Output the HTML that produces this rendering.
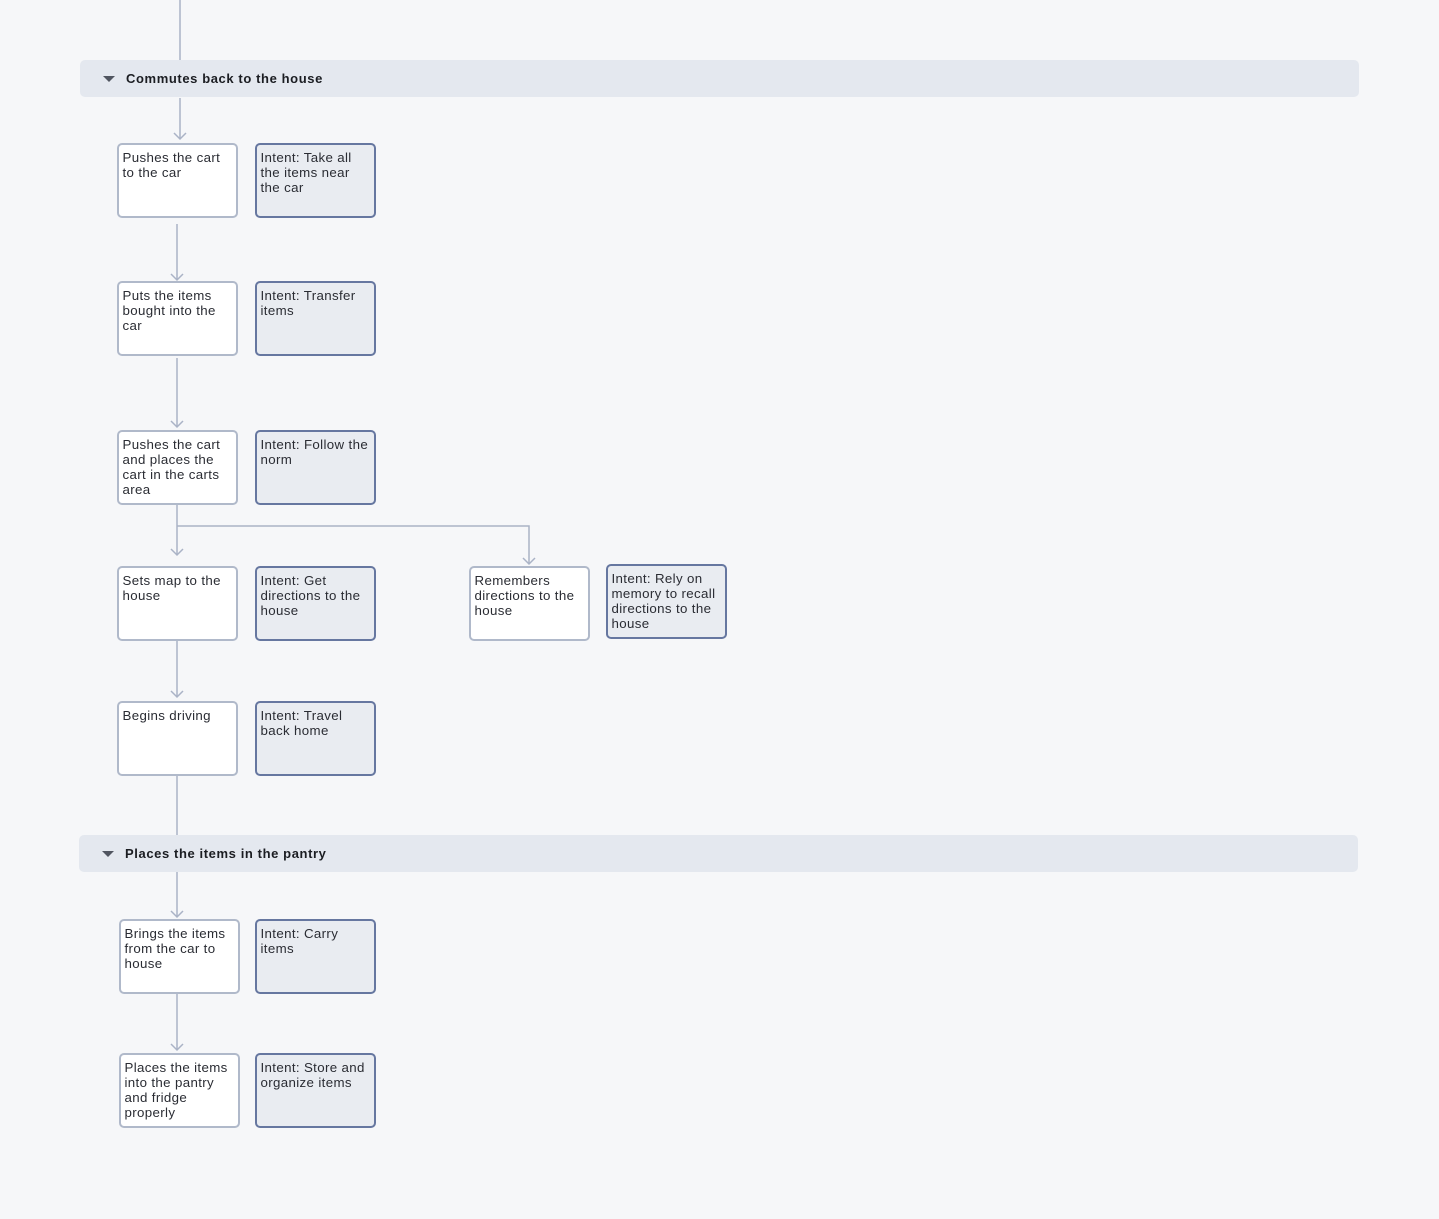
<!DOCTYPE html>
<html><head><meta charset="utf-8"><style>
html,body{margin:0;padding:0;}
body{width:1439px;height:1219px;background:#f6f7f9;position:relative;overflow:hidden;font-family:"Liberation Sans",sans-serif;}
.hdr{position:absolute;height:37px;background:#e4e8ef;border-radius:5px;}
.hdr span{position:absolute;left:46px;top:11px;font-weight:bold;font-size:13px;color:#1b1d22;letter-spacing:0.6px;}
.hdr i{position:absolute;left:23px;top:16px;width:0;height:0;border-left:6px solid transparent;border-right:6px solid transparent;border-top:6px solid #505560;}
.n{position:absolute;box-sizing:border-box;width:121px;height:75px;border:2px solid #b0b9ca;background:#fff;border-radius:5px;font-size:13.3px;line-height:15px;color:#2a2c33;padding:5px 2px 0 3.5px;letter-spacing:0.35px;}
.i{background:#e9ecf1;border:2px solid #6677a0;}
svg{position:absolute;left:0;top:0;}
</style></head><body>
<svg width="1439" height="1219">
<g stroke="#aab3c6" stroke-width="1.5" fill="none">
<line x1="180" y1="0" x2="180" y2="60"/>
<line x1="180" y1="98" x2="180" y2="139"/><polyline points="174,133 180,139 186,133"/>
<line x1="177" y1="224" x2="177" y2="280"/><polyline points="171,274 177,280 183,274"/>
<line x1="177" y1="358" x2="177" y2="427"/><polyline points="171,421 177,427 183,421"/>
<line x1="177" y1="504" x2="177" y2="555"/><polyline points="171,549 177,555 183,549"/>
<polyline points="177,526 529,526 529,564"/><polyline points="523,558 529,564 535,558"/>
<line x1="177" y1="640" x2="177" y2="697"/><polyline points="171,691 177,697 183,691"/>
<line x1="177" y1="776" x2="177" y2="835"/>
<line x1="177" y1="872" x2="177" y2="917"/><polyline points="171,911 177,917 183,911"/>
<line x1="177" y1="994" x2="177" y2="1050"/><polyline points="171,1044 177,1050 183,1044"/>
</g></svg>
<div class="hdr" style="left:80px;top:60px;width:1279px;"><i></i><span>Commutes back to the house</span></div>
<div class="hdr" style="left:79px;top:835px;width:1279px;"><i></i><span>Places the items in the pantry</span></div>

<div class="n" style="left:117px;top:143px;">Pushes the cart<br>to the car</div>
<div class="n i" style="left:255px;top:143px;">Intent: Take all<br>the items near<br>the car</div>
<div class="n" style="left:117px;top:281px;">Puts the items<br>bought into the<br>car</div>
<div class="n i" style="left:255px;top:281px;">Intent: Transfer<br>items</div>
<div class="n" style="left:117px;top:430px;">Pushes the cart<br>and places the<br>cart in the carts<br>area</div>
<div class="n i" style="left:255px;top:430px;">Intent: Follow the<br>norm</div>
<div class="n" style="left:117px;top:566px;">Sets map to the<br>house</div>
<div class="n i" style="left:255px;top:566px;">Intent: Get<br>directions to the<br>house</div>
<div class="n" style="left:469px;top:566px;">Remembers<br>directions to the<br>house</div>
<div class="n i" style="left:606px;top:564px;">Intent: Rely on<br>memory to recall<br>directions to the<br>house</div>
<div class="n" style="left:117px;top:701px;">Begins driving</div>
<div class="n i" style="left:255px;top:701px;">Intent: Travel<br>back home</div>
<div class="n" style="left:119px;top:919px;">Brings the items<br>from the car to<br>house</div>
<div class="n i" style="left:255px;top:919px;">Intent: Carry<br>items</div>
<div class="n" style="left:119px;top:1053px;">Places the items<br>into the pantry<br>and fridge<br>properly</div>
<div class="n i" style="left:255px;top:1053px;">Intent: Store and<br>organize items</div>
</body></html>
